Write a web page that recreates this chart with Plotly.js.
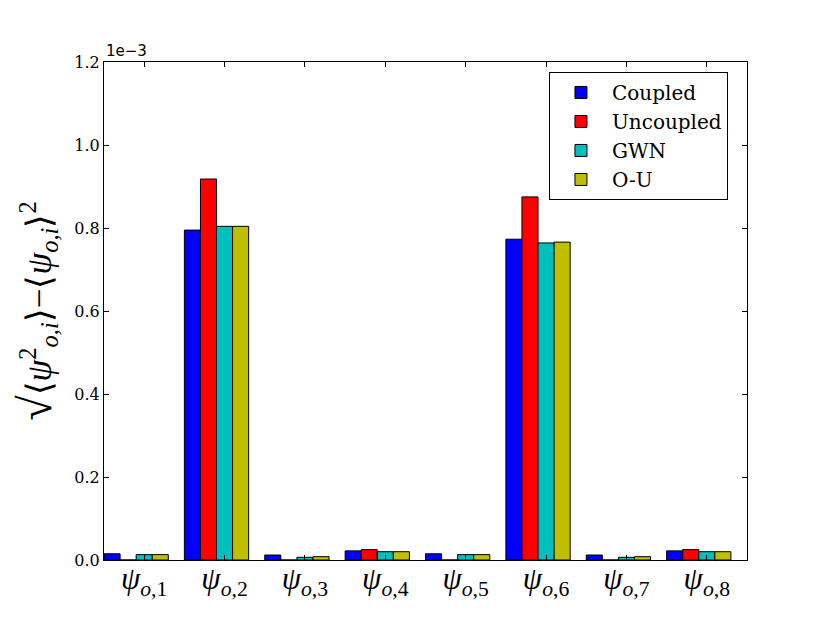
<!DOCTYPE html>
<html>
<head>
<meta charset="utf-8">
<script src="https://cdn.plot.ly/plotly-3.0.1.min.js"></script>
<style>
  body { margin: 0; background: #fff; }
  #chart { width: 830px; height: 623px; }
</style>
</head>
<body>
<div id="chart"></div>
<script>
// values are in units of 1e-3 (matplotlib offset label)
const groups = [0, 1, 2, 3, 4, 5, 6, 7];
const tickLabels = groups.map(i => '<i>ψ</i><sub><i>o</i>,' + (i + 1) + '</sub>');
const coupled   = [0.015, 0.795, 0.012, 0.022, 0.015, 0.773, 0.012, 0.022];
const uncoupled = [0.0,   0.918, 0.0,   0.025, 0.0,   0.875, 0.0,   0.025];
const gwn       = [0.013, 0.804, 0.0065, 0.020, 0.013, 0.764, 0.0065, 0.020];
const ou        = [0.013, 0.804, 0.008, 0.020, 0.013, 0.766, 0.008, 0.020];

const seriesNames = ['Coupled', 'Uncoupled', 'GWN', 'O-U'];
const seriesColors = ['#0000ff', '#ff0000', '#00bfbf', '#bfbf00'];
const seriesValues = [coupled, uncoupled, gwn, ou];
const BAR_W = 0.2;

const traces = seriesValues.map((vals, k) => ({
    type: 'bar', name: seriesNames[k], x: groups, y: vals,
    width: BAR_W, offset: k * BAR_W,
    marker: { color: seriesColors[k], line: { color: '#000', width: 1 } },
    hoverinfo: 'skip',
}));

const layout = {
    width: 830, height: 623,
    margin: { l: 104, r: 83, t: 62, b: 63 },
    paper_bgcolor: '#fff', plot_bgcolor: '#fff',
    barmode: 'overlay',
    font: { family: 'DejaVu Serif, serif', color: '#000' },
    xaxis: {
        range: [0, 8], tickmode: 'array',
        tickvals: groups.map(i => i + 0.5), ticktext: tickLabels,
        tickfont: { family: 'Liberation Serif, serif', size: 31 },
        ticks: 'inside', ticklen: 5, tickcolor: '#000', ticklabelstandoff: -9,
        showline: true, linecolor: '#000', linewidth: 1, mirror: 'ticks',
        showgrid: false, zeroline: false,
    },
    yaxis: {
        range: [0, 1.2], tickmode: 'array',
        tickvals: [0, 0.2, 0.4, 0.6, 0.8, 1.0, 1.2],
        ticktext: ['0.0', '0.2', '0.4', '0.6', '0.8', '1.0', '1.2'],
        tickfont: { family: 'DejaVu Serif, serif', size: 16 },
        ticks: 'inside', ticklen: 5, tickcolor: '#000',
        showline: true, linecolor: '#000', linewidth: 1, mirror: 'ticks',
        showgrid: false, zeroline: false,
        title: {
            text: '<span style="font-size:46px">√</span>⟨<i>ψ</i><sup>2</sup><sub><i>o,i</i></sub>⟩−⟨<i>ψ</i><sub><i>o,i</i></sub>⟩<sup>2</sup>',
            font: { family: 'Liberation Serif, serif', size: 35 }, standoff: 12,
        },
    },
    legend: {
        x: 0.692, y: 0.98, xanchor: 'left', yanchor: 'top',
        bgcolor: '#fff', bordercolor: '#000', borderwidth: 1,
        font: { family: 'DejaVu Serif, serif', size: 20 },
        itemwidth: 52, tracegroupgap: 6,
    },
    annotations: [{
        text: '1e−3', xref: 'paper', yref: 'paper', x: 0, y: 1,
        xanchor: 'left', yanchor: 'bottom', showarrow: false,
        font: { family: 'DejaVu Sans, sans-serif', size: 15 },
    }],
};

Plotly.newPlot('chart', traces, layout, { displayModeBar: false, staticPlot: true });
</script>
</body>
</html>
